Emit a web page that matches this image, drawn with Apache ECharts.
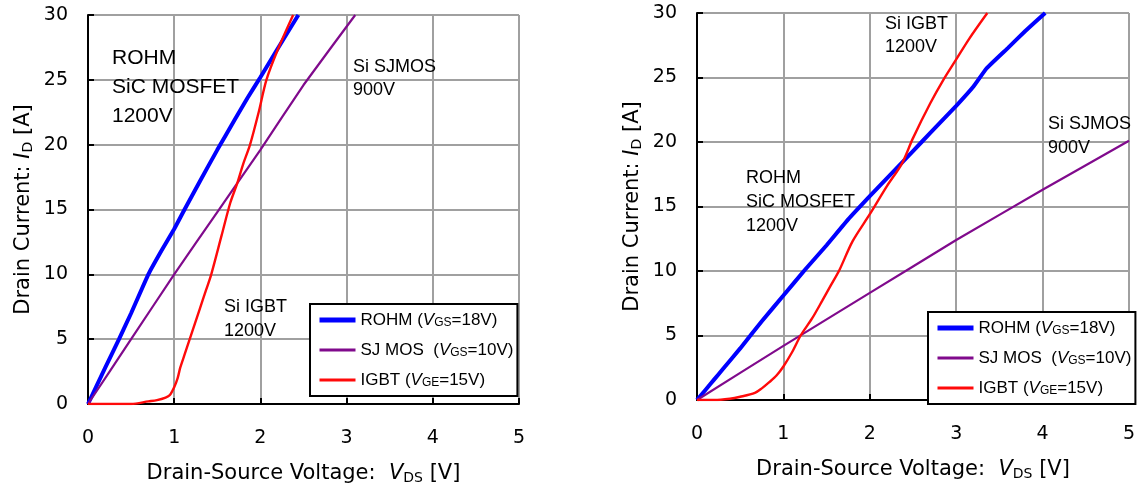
<!DOCTYPE html>
<html lang="en">
<head>
<meta charset="UTF-8">
<title>SiC MOSFET vs Si</title>
<script src="https://cdn.jsdelivr.net/npm/echarts@6/dist/echarts.min.js"></script>
<style>
  html, body { margin: 0; padding: 0; background: #fff; }
</style>
</head>
<body>
<div id="chart" style="width:1139px; height:491px"></div>
<script type="text/javascript">
// tick values
var xTicks = [0, 1, 2, 3, 4, 5];
var yTicks = [0, 5, 10, 15, 20, 25, 30];

// left chart
var leftRohm = [[0,0],[0.2,2.8],[0.36,5],[0.5,7.0],[0.7,10],[0.85,11.8],[1.0,13.5],[1.12,15],
  [1.3,17.2],[1.5,19.6],[1.7,21.9],[1.85,23.6],[2.0,25.2],[2.2,27.4],[2.44,30]];
var leftSj = [[0,0],[0.5,5.0],[1,10],[1.5,14.8],[2,19.6],[2.5,24.6],[3.1,30]];
var leftIgbt = [[0,0],[0.5,0],[0.7,0.2],[0.8,0.3],[0.9,0.5],[0.95,0.7],[1.0,1.3],[1.04,2.0],[1.07,2.8],[1.12,3.8],
  [1.18,5.0],[1.24,6.2],[1.3,7.4],[1.37,8.8],[1.43,10],[1.55,13],[1.65,15.5],[1.73,17],[1.8,18.5],[1.88,20],
  [1.98,22.5],[2.07,25],[2.2,27.3],[2.38,30]];

// right chart
var rightRohm = [[0,0],[0.1,0.8],[0.2,1.6],[0.3,2.4],[0.5,4.0],[0.75,6.1],[1.0,8.1],[1.25,10.1],
  [1.5,12.0],[1.75,14.0],[2.0,15.8],[2.2,17.2],[2.4,18.6],[2.6,20.0],[2.8,21.4],[3.0,22.8],[3.2,24.3],[3.35,25.7],
  [3.6,27.3],[3.8,28.6],[4.03,30]];
var rightSj = [[0,0],[1,4.2],[2,8.3],[3,12.4],[4,16.3],[5,20.1]];
var rightIgbt = [[0,0],[0.2,0],[0.38,0.1],[0.5,0.25],[0.67,0.55],[0.75,0.9],[0.84,1.4],[0.92,1.9],[1.0,2.6],[1.1,3.7],
  [1.2,5.0],[1.33,6.3],[1.45,7.7],[1.55,8.9],[1.65,10.1],[1.8,12.3],[2.0,14.4],[2.2,16.6],[2.37,18.3],[2.5,20.3],
  [2.7,23.0],[2.85,24.8],[3.0,26.4],[3.15,28.0],[3.36,30]];

var names = ['ROHM', 'SJ MOS', 'IGBT'];
var legendText = {
  'ROHM': '{n|ROHM (}{i|V}{s|GS}{n|=18V)}',
  'SJ MOS': '{n|SJ MOS  (}{i|V}{s|GS}{n|=10V)}',
  'IGBT': '{n|IGBT (}{i|V}{s|GE}{n|=15V)}'
};
var colors = { 'ROHM': '#0000ff', 'SJ MOS': '#800a8c', 'IGBT': '#ff0a0a' };
var widths = { 'ROHM': 4, 'SJ MOS': 2.2, 'IGBT': 2.4 };
var legendWidths = { 'ROHM': 5, 'SJ MOS': 3, 'IGBT': 3 };

var FONT = '"Liberation Sans", Arial, sans-serif';
var WIDE = '"DejaVu Sans", sans-serif';
var rich = {
  n: { fontSize: 17, fontFamily: FONT, color: '#000' },
  i: { fontSize: 17, fontFamily: FONT, fontStyle: 'italic', color: '#000' },
  s: { fontSize: 12, fontFamily: FONT, color: '#000', padding: [6, 0, 0, 0] }
};
var nameRich = {
  n: { fontSize: 21, fontFamily: WIDE, color: '#000' },
  i: { fontSize: 21, fontFamily: WIDE, fontStyle: 'italic', color: '#000' },
  s: { fontSize: 14, fontFamily: WIDE, color: '#000', padding: [8, 0, 0, 0] }
};

function xAxisOf(idx) {
  return {
    gridIndex: idx, type: 'value', min: 0, max: 5, interval: 1,
    name: '{n|Drain-Source Voltage:  }{i|V}{s|DS}{n| [V]}',
    nameLocation: 'middle', nameGap: 59,
    nameTextStyle: { rich: nameRich },
    axisLine: { onZero: false, lineStyle: { color: '#000', width: 2 } },
    axisTick: { inside: true, length: 6, lineStyle: { color: '#000', width: 2 } },
    axisLabel: { margin: 25, fontSize: 19, fontFamily: WIDE, color: '#000',
      formatter: function (v) { return xTicks.indexOf(v) >= 0 ? String(v) : ''; } },
    splitLine: { show: true, lineStyle: { color: '#a0a0a0', width: 2 } }
  };
}
function yAxisOf(idx) {
  return {
    gridIndex: idx, type: 'value', min: 0, max: 30, interval: 5,
    name: '{n|Drain Current: }{i|I}{s|D}{n| [A]}',
    nameLocation: 'middle', nameGap: 53, nameRotate: 90,
    nameTextStyle: { rich: nameRich },
    axisLine: { onZero: false, lineStyle: { color: '#000', width: 2 } },
    axisTick: { inside: true, length: 6, lineStyle: { color: '#000', width: 2 } },
    axisLabel: { margin: 20, fontSize: 19, fontFamily: WIDE, color: '#000',
      formatter: function (v) { return yTicks.indexOf(v) >= 0 ? String(v) : ''; } },
    splitLine: { show: true, lineStyle: { color: '#a0a0a0', width: 2 } }
  };
}

function lineSeries(name, data, idx) {
  return {
    name: name, type: 'line', data: data, xAxisIndex: idx, yAxisIndex: idx,
    symbol: 'none', smooth: name === 'IGBT' ? 0.3 : 0.1, silent: true, animation: false,
    lineStyle: { color: colors[name], width: widths[name] },
    itemStyle: { color: colors[name] },
    z: name === 'ROHM' ? 3 : 4
  };
}

function legendOf(left, top) {
  return {
    data: names.map(function (n) { return { name: n, lineStyle: { width: legendWidths[n] } }; }),
    orient: 'vertical', left: left, top: top,
    backgroundColor: '#fff', borderColor: '#000', borderWidth: 2, borderRadius: 0,
    padding: [7, 4, 7, 7], itemWidth: 36, itemHeight: 14, itemGap: 12,
    itemStyle: { opacity: 0 },
    formatter: function (n) { return legendText[n]; },
    textStyle: { rich: rich, lineHeight: 18 },
    selectedMode: false
  };
}

function note(x, y, text, size, lh) {
  return { type: 'text', left: x, top: y, z: 10,
    style: { text: text, fontSize: size, lineHeight: lh, fontFamily: FONT, fill: '#000' } };
}

var myChart = echarts.init(document.getElementById('chart'));
myChart.setOption({
  backgroundColor: '#fff',
  animation: false,
  grid: [
    { left: 88, top: 15, width: 431, height: 389 },
    { left: 697, top: 13, width: 432, height: 387 }
  ],
  xAxis: [xAxisOf(0), xAxisOf(1)],
  yAxis: [yAxisOf(0), yAxisOf(1)],
  legend: [legendOf(310, 304), legendOf(928, 312)],
  graphic: [
    note(112, 44, 'ROHM\nSiC MOSFET\n1200V', 21, 29),
    note(353, 56, 'Si SJMOS\n900V', 18, 23),
    note(224, 295, 'Si IGBT\n1200V', 18, 24),
    note(885, 13, 'Si IGBT\n1200V', 18, 23),
    note(1048, 112, 'Si SJMOS\n900V', 18, 24),
    note(746, 166, 'ROHM\nSiC MOSFET\n1200V', 18, 24)
  ],
  series: [
    lineSeries('ROHM', leftRohm, 0),
    lineSeries('SJ MOS', leftSj, 0),
    lineSeries('IGBT', leftIgbt, 0),
    lineSeries('ROHM', rightRohm, 1),
    lineSeries('SJ MOS', rightSj, 1),
    lineSeries('IGBT', rightIgbt, 1)
  ]
});
</script>
</body>
</html>
